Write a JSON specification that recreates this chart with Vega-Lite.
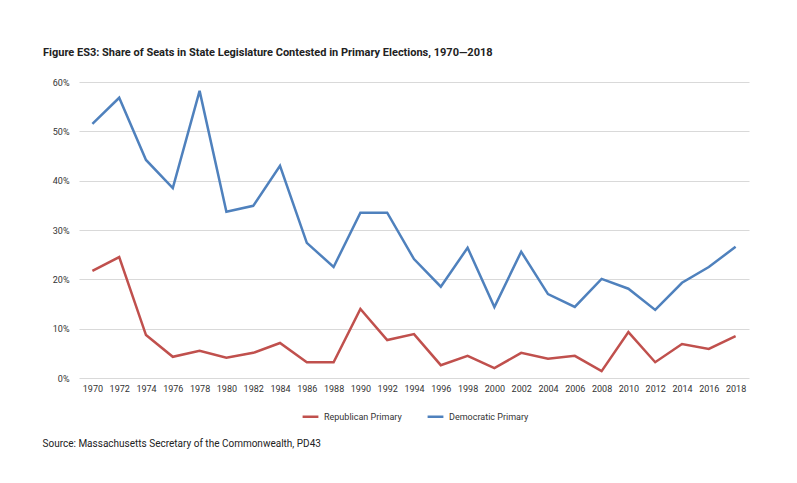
{
"$schema":"https://vega.github.io/schema/vega-lite/v6.json",
"width":670,"height":296,
"padding":{"left":42,"top":47,"right":5,"bottom":43},
"background":"white",
"title":{"text":"Figure ES3: Share of Seats in State Legislature Contested in Primary Elections, 1970—2018","anchor":"start","fontSize":11,"font":"Roboto","fontWeight":"bold","color":"#222","offset":20,"dx":1},
"data":{"values":[
{"year":"1970","s":"Republican Primary","v":0.217},{"year":"1972","s":"Republican Primary","v":0.245},{"year":"1974","s":"Republican Primary","v":0.087},{"year":"1976","s":"Republican Primary","v":0.043},{"year":"1978","s":"Republican Primary","v":0.055},{"year":"1980","s":"Republican Primary","v":0.041},{"year":"1982","s":"Republican Primary","v":0.051},{"year":"1984","s":"Republican Primary","v":0.071},{"year":"1986","s":"Republican Primary","v":0.032},{"year":"1988","s":"Republican Primary","v":0.032},{"year":"1990","s":"Republican Primary","v":0.14},{"year":"1992","s":"Republican Primary","v":0.077},{"year":"1994","s":"Republican Primary","v":0.089},{"year":"1996","s":"Republican Primary","v":0.026},{"year":"1998","s":"Republican Primary","v":0.045},{"year":"2000","s":"Republican Primary","v":0.02},{"year":"2002","s":"Republican Primary","v":0.051},{"year":"2004","s":"Republican Primary","v":0.039},{"year":"2006","s":"Republican Primary","v":0.045},{"year":"2008","s":"Republican Primary","v":0.014},{"year":"2010","s":"Republican Primary","v":0.093},{"year":"2012","s":"Republican Primary","v":0.032},{"year":"2014","s":"Republican Primary","v":0.069},{"year":"2016","s":"Republican Primary","v":0.059},{"year":"2018","s":"Republican Primary","v":0.085},
{"year":"1970","s":"Democratic Primary","v":0.515},{"year":"1972","s":"Democratic Primary","v":0.568},{"year":"1974","s":"Democratic Primary","v":0.442},{"year":"1976","s":"Democratic Primary","v":0.385},{"year":"1978","s":"Democratic Primary","v":0.582},{"year":"1980","s":"Democratic Primary","v":0.337},{"year":"1982","s":"Democratic Primary","v":0.349},{"year":"1984","s":"Democratic Primary","v":0.43},{"year":"1986","s":"Democratic Primary","v":0.274},{"year":"1988","s":"Democratic Primary","v":0.225},{"year":"1990","s":"Democratic Primary","v":0.335},{"year":"1992","s":"Democratic Primary","v":0.335},{"year":"1994","s":"Democratic Primary","v":0.241},{"year":"1996","s":"Democratic Primary","v":0.185},{"year":"1998","s":"Democratic Primary","v":0.264},{"year":"2000","s":"Democratic Primary","v":0.144},{"year":"2002","s":"Democratic Primary","v":0.256},{"year":"2004","s":"Democratic Primary","v":0.17},{"year":"2006","s":"Democratic Primary","v":0.144},{"year":"2008","s":"Democratic Primary","v":0.201},{"year":"2010","s":"Democratic Primary","v":0.181},{"year":"2012","s":"Democratic Primary","v":0.138},{"year":"2014","s":"Democratic Primary","v":0.193},{"year":"2016","s":"Democratic Primary","v":0.225},{"year":"2018","s":"Democratic Primary","v":0.266}
]},
"mark":{"type":"line","strokeWidth":2.5},
"encoding":{
"x":{"field":"year","type":"ordinal","scale":{"type":"point","padding":0.5},
"axis":{"labelAngle":0,"domain":false,"ticks":false,"labelFontSize":9,"labelColor":"#333","labelFont":"Roboto","labelPadding":6,
"title":"Source: Massachusetts Secretary of the Commonwealth, PD43","titleAnchor":"start","titleX":-37,"titleY":60,"titleFontSize":10,"titleFontWeight":"normal","titleFont":"Roboto","titleColor":"#222"}},
"y":{"field":"v","type":"quantitative","scale":{"domain":[0,0.6]},
"axis":{"format":".0%","values":[0,0.1,0.2,0.3,0.4,0.5,0.6],"domain":false,"ticks":false,"title":null,"labelFontSize":9,"labelColor":"#333","labelFont":"Roboto","labelPadding":10,"gridColor":"#d9d9d9"}},
"color":{"field":"s","type":"nominal","sort":["Republican Primary","Democratic Primary"],
"scale":{"domain":["Republican Primary","Democratic Primary"],"range":["#c0504d","#4f81bd"]},
"legend":{"title":null,"orient":"none","legendX":222,"legendY":325,"direction":"horizontal","symbolType":"stroke","symbolStrokeWidth":2.5,"symbolSize":250,"labelFontSize":9,"labelFont":"Roboto","labelColor":"#333","columnPadding":20}}
},
"config":{"view":{"stroke":null}}
}
